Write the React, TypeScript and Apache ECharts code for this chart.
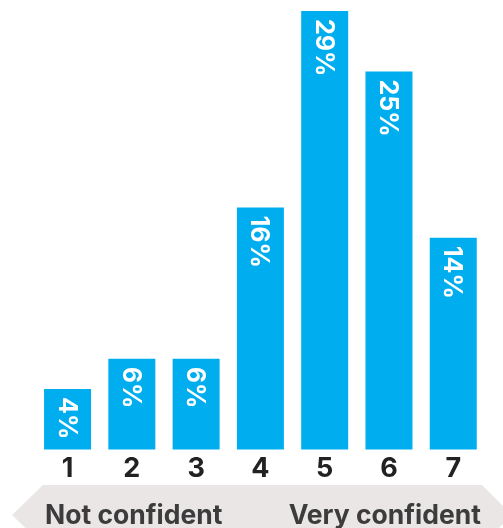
import React, { useEffect, useRef } from "react";
import * as echarts from "echarts";

const categories = ["1", "2", "3", "4", "5", "6", "7"];
const values = [4, 6, 6, 16, 29, 25, 14];
const leftLabel = "Not confident";
const rightLabel = "Very confident";

export default function App() {
  const ref = useRef<HTMLDivElement>(null);
  useEffect(() => {
    if (!ref.current) return;
    const chart = echarts.init(ref.current, undefined, { renderer: "svg" });
    const font = "Inter, 'Noto Sans', sans-serif";
    chart.setOption({
      animation: false,
      grid: { left: 35.4, right: 17.6, top: 11, bottom: 78.5, containLabel: false },
      xAxis: {
        type: "category",
        data: categories,
        axisLine: { show: false },
        axisTick: { show: false },
        axisLabel: {
          margin: 4,
          color: "#222222",
          fontSize: 27,
          fontWeight: 700,
          fontFamily: font,
        },
      },
      yAxis: {
        type: "value",
        min: 0,
        max: 29,
        show: false,
        splitLine: { show: false },
      },
      series: [
        {
          type: "bar",
          data: values,
          barWidth: 47,
          itemStyle: { color: "#00AEEF" },
          label: {
            show: true,
            position: "insideTop",
            rotate: -90,
            align: "left",
            verticalAlign: "middle",
            distance: 8,
            formatter: "{c}%",
            color: "#ffffff",
            fontSize: 25,
            fontWeight: 700,
            fontFamily: font,
          },
        },
      ],
      graphic: [
        {
          type: "polygon",
          shape: {
            points: [
              [12, 515],
              [43, 485],
              [482, 485],
              [512, 515],
              [482, 545],
              [43, 545],
            ],
          },
          style: { fill: "#EAE6E6" },
          z: -1,
        },
        {
          type: "text",
          x: 45,
          y: 514,
          style: {
            text: leftLabel,
            fill: "#3C3C3C",
            font: `700 26.5px ${font}`,
            textAlign: "left",
            textVerticalAlign: "middle",
          },
        },
        {
          type: "text",
          x: 481,
          y: 514,
          style: {
            text: rightLabel,
            fill: "#3C3C3C",
            font: `700 26.5px ${font}`,
            textAlign: "right",
            textVerticalAlign: "middle",
          },
        },
      ],
    });
    return () => chart.dispose();
  }, []);
  return <div ref={ref} style={{ width: 503, height: 528, position: "fixed", left: 0, top: 0 }} />;
}
